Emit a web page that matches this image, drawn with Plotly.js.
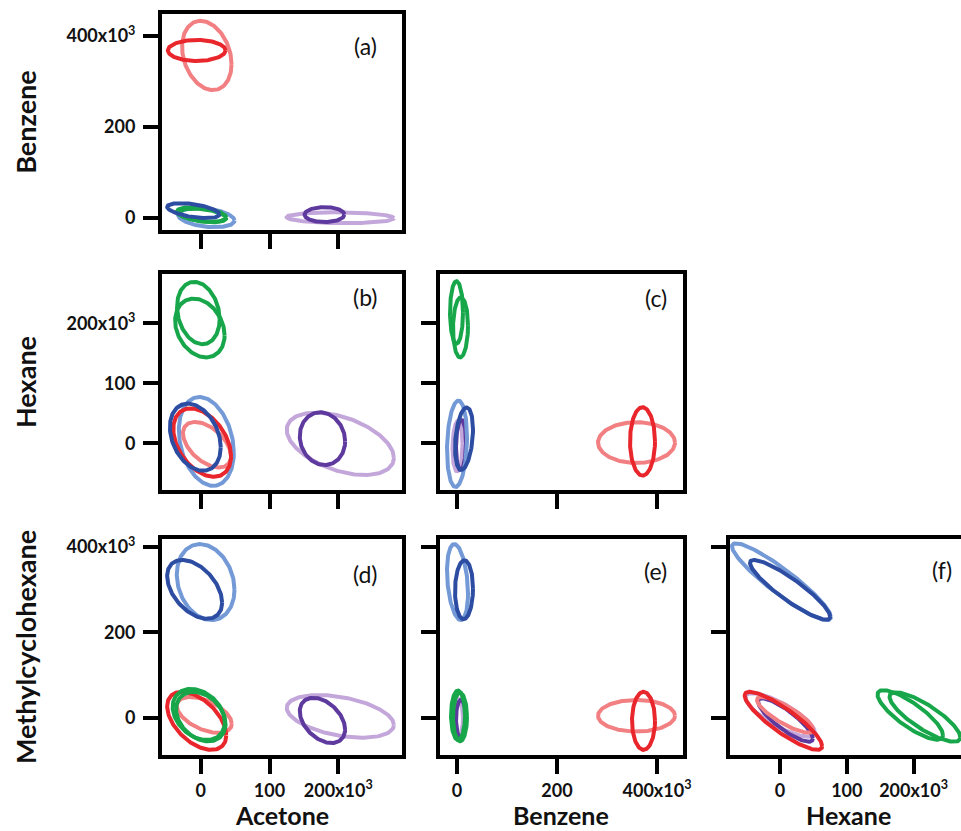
<!DOCTYPE html>
<html>
<head>
<meta charset="utf-8">
<script src="https://cdn.plot.ly/plotly-3.0.1.min.js"></script>
<style>
  html, body { margin: 0; padding: 0; background: #ffffff; }
  #chart { width: 961px; height: 831px; }
</style>
</head>
<body>
<div id="chart"></div>
<script>
// ---------- DATA (units: x10^3) ----------
// Ellipse series, drawn in this order
const seriesKeys   = ['lightPurple', 'purple', 'lightBlue', 'lightRed', 'red', 'green1', 'green2', 'blue'];
const seriesColors = ['#c4a7da', '#5e3a9e', '#7399d6', '#f27f82', '#e8262b', '#17a74a', '#17a74a', '#2d4da3'];

// Panel (a): Acetone (x) vs Benzene (y)
const aCx  = [203, 180, 8, 8.7, -6, 1, 3, -11];
const aCy  = [1, 7.7, 1, 357, 368, 8, 6, 16.5];
const aHx  = [78, 29, 41, 36, 42, 36, 34, 38];
const aHy  = [12, 16.5, 21, 76, 23, 16, 15, 16.5];
const aRho = [-0.1, 0, -0.3, -0.25, 0, -0.4, -0.4, -0.5];

// Panel (b): Acetone (x) vs Hexane (y)
const bCx  = [203, 177, 8, 9, 2, -3.6, -1.4, -8];
const bCy  = [-1, 7.5, 3, -2.5, 1, 217, 192, 10];
const bHx  = [78, 33, 40, 35, 42, 31, 36, 37];
const bHy  = [52, 44, 74, 38, 57, 52, 49, 56];
const bRho = [-0.45, -0.1, -0.25, -0.5, -0.4, -0.2, -0.25, -0.3];

// Panel (c): Benzene (x) vs Hexane (y)
const cCx  = [1, 8, 0, 359, 371, -1, 7, 14];
const cCy  = [-5, -3, -1, 1, 3, 218, 193, 7.5];
const cHx  = [10, 10, 20, 77, 25, 13, 15, 18];
const cHy  = [42, 42, 72, 34, 57, 52, 50, 52];
const cRho = [0.1, 0.1, 0.15, 0, 0, 0, 0.05, 0.3];

// Panel (d): Acetone (x) vs Methylcyclohexane (y)
const dCx  = [203, 177, 7, 5, -6, -3, 0, -9];
const dCy  = [3.5, -6, 318, 7, -7, 8, 3, 301];
const dHx  = [78, 33, 42, 40, 43, 38, 36, 40];
const dHy  = [50, 53, 89, 42, 68, 60, 58, 69];
const dRho = [-0.4, -0.4, -0.2, -0.5, -0.5, -0.3, -0.3, -0.45];

// Panel (e): Benzene (x) vs Methylcyclohexane (y)
const eCx  = [2, 8, 1, 359, 373, 2, 6, 14];
const eCy  = [0, -3, 318, 5, -7, 6, 2, 300];
const eHx  = [10, 10, 21, 77, 23, 14, 14, 18];
const eHy  = [45, 45, 89, 37, 68, 58, 57, 69];
const eRho = [0, 0, -0.3, 0, 0, 0, 0, 0.05];

// Panel (f): Hexane (x) vs Methylcyclohexane (y)
const fCx  = [0, 8, 2, 7.5, 5, 195, 217, 15];
const fCy  = [7, -5, 319, 7, -7, 7, 2, 300];
const fHx  = [52, 41, 74, 42, 58, 49, 53, 60];
const fHy  = [51, 51, 90, 42, 68, 58, 58, 70];
const fRho = [-0.8, -0.85, -0.92, -0.83, -0.87, -0.82, -0.82, -0.9];

// Tick labels
const acetoneTicks  = [0, 100, 200];
const acetoneLabels = ['0', '100', '200x10<sup>3</sup>'];
const benzeneTicks  = [0, 200, 400];
const benzeneLabels = ['0', '200', '400x10<sup>3</sup>'];
const hexaneTicks   = [0, 100, 200];
const hexaneLabels  = ['0', '100', '200x10<sup>3</sup>'];
const mchTicks      = [0, 200, 400];
const mchLabels     = ['0', '200', '400x10<sup>3</sup>'];

const panelLabels = ['(a)', '(b)', '(c)', '(d)', '(e)', '(f)'];
const xTitles = ['Acetone', 'Benzene', 'Hexane'];

// ---------- BUILD ----------
const W = 961, H = 831;
function ellipsePts(cx, cy, hx, hy, rho) {
  const d = Math.acos(rho);
  const xs = [], ys = [];
  const N = 180;
  for (let i = 0; i <= N; i++) {
    const t = 2 * Math.PI * i / N;
    xs.push(cx + hx * Math.cos(t));
    ys.push(cy + hy * Math.cos(t - d));
  }
  return [xs, ys];
}

const panels = [
  {cx: aCx, cy: aCy, hx: aHx, hy: aHy, rho: aRho, xa: 'x',  ya: 'y'},
  {cx: bCx, cy: bCy, hx: bHx, hy: bHy, rho: bRho, xa: 'x2', ya: 'y2'},
  {cx: cCx, cy: cCy, hx: cHx, hy: cHy, rho: cRho, xa: 'x3', ya: 'y3'},
  {cx: dCx, cy: dCy, hx: dHx, hy: dHy, rho: dRho, xa: 'x4', ya: 'y4'},
  {cx: eCx, cy: eCy, hx: eHx, hy: eHy, rho: eRho, xa: 'x5', ya: 'y5'},
  {cx: fCx, cy: fCy, hx: fHx, hy: fHy, rho: fRho, xa: 'x6', ya: 'y6'}
];

const traces = [];
panels.forEach(p => {
  seriesKeys.forEach((k, i) => {
    const [xs, ys] = ellipsePts(p.cx[i], p.cy[i], p.hx[i], p.hy[i], p.rho[i]);
    traces.push({
      type: 'scatter', mode: 'lines', name: k,
      x: xs, y: ys, xaxis: p.xa, yaxis: p.ya,
      line: {color: seriesColors[i], width: 4},
      showlegend: false, hoverinfo: 'skip'
    });
  });
});

// Geometry (pixels)
const colX = [[162, 402], [440, 683], [730, 961]];
const rowY = [[14, 230], [274, 490], [539, 755]];
const dx = c => [colX[c][0] / W, colX[c][1] / W];
const dy = r => [1 - rowY[r][1] / H, 1 - rowY[r][0] / H];

const fam = 'Lato, "Open Sans", sans-serif';
const tickFont = {family: fam, size: 18, color: '#111', weight: 700};
const titleFont = {family: fam, size: 27, color: '#111', weight: 700};
const xTitleFont = {family: fam, size: 25, color: '#111', weight: 700};

function axis(opts) {
  return Object.assign({
    showline: true, linecolor: '#000', linewidth: 4, mirror: true,
    ticks: 'outside', ticklen: 15, tickwidth: 4, tickcolor: '#000',
    showgrid: false, zeroline: false, tickfont: tickFont,
    fixedrange: true
  }, opts);
}

const ranges = {
  acetone: [-56.5, 292.8],
  benzeneX: [-34, 452],
  hexaneX: [-75, 271],
  benzeneY: [-26, 448],
  hexaneY: [-78, 282],
  mchY: [-87, 419]
};

const yTitle = t => ({text: t, font: titleFont, standoff: 23});

const layout = {
  width: W, height: H,
  margin: {l: 0, r: 0, t: 0, b: 0},
  paper_bgcolor: '#ffffff', plot_bgcolor: '#ffffff',
  showlegend: false,
  // (a)
  xaxis:  axis({domain: dx(0), anchor: 'y',  range: ranges.acetone, tickvals: acetoneTicks, showticklabels: false}),
  yaxis:  axis({domain: dy(0), anchor: 'x',  range: ranges.benzeneY, tickvals: benzeneTicks, ticktext: benzeneLabels,
                ticklabelstandoff: 4, title: yTitle('Benzene')}),
  // (b)
  xaxis2: axis({domain: dx(0), anchor: 'y2', range: ranges.acetone, tickvals: acetoneTicks, showticklabels: false}),
  yaxis2: axis({domain: dy(1), anchor: 'x2', range: ranges.hexaneY, tickvals: hexaneTicks, ticktext: hexaneLabels,
                ticklabelstandoff: 4, title: yTitle('Hexane')}),
  // (c)
  xaxis3: axis({domain: dx(1), anchor: 'y3', range: ranges.benzeneX, tickvals: benzeneTicks, showticklabels: false}),
  yaxis3: axis({domain: dy(1), anchor: 'x3', range: ranges.hexaneY, tickvals: hexaneTicks, showticklabels: false}),
  // (d)
  xaxis4: axis({domain: dx(0), anchor: 'y4', range: ranges.acetone, tickvals: acetoneTicks, ticktext: acetoneLabels,
                ticklabelstandoff: 1}),
  yaxis4: axis({domain: dy(2), anchor: 'x4', range: ranges.mchY, tickvals: mchTicks, ticktext: mchLabels,
                ticklabelstandoff: 4, title: yTitle('Methylcyclohexane')}),
  // (e)
  xaxis5: axis({domain: dx(1), anchor: 'y5', range: ranges.benzeneX, tickvals: benzeneTicks, ticktext: benzeneLabels,
                ticklabelstandoff: 1}),
  yaxis5: axis({domain: dy(2), anchor: 'x5', range: ranges.mchY, tickvals: mchTicks, showticklabels: false}),
  // (f)
  xaxis6: axis({domain: dx(2), anchor: 'y6', range: ranges.hexaneX, tickvals: hexaneTicks, ticktext: hexaneLabels,
                ticklabelstandoff: 1}),
  yaxis6: axis({domain: dy(2), anchor: 'x6', range: ranges.mchY, tickvals: mchTicks, showticklabels: false, mirror: false}),
  annotations: [
    [365, 46], [365, 297], [656, 298], [365, 574], [655, 571], [942, 570]
  ].map((p, i) => ({
    xref: 'paper', yref: 'paper', x: p[0] / W, y: 1 - p[1] / H,
    xanchor: 'center', yanchor: 'middle', showarrow: false,
    text: panelLabels[i],
    font: {family: fam, size: 23, color: '#111'}
  })).concat([282, 561, 848].map((px, i) => ({
    xref: 'paper', yref: 'paper', x: px / W, y: 0,
    xanchor: 'center', yanchor: 'bottom', showarrow: false, borderpad: 0,
    text: xTitles[i], font: xTitleFont
  })))
};

Plotly.newPlot('chart', traces, layout, {displayModeBar: false, staticPlot: true});
</script>
</body>
</html>
